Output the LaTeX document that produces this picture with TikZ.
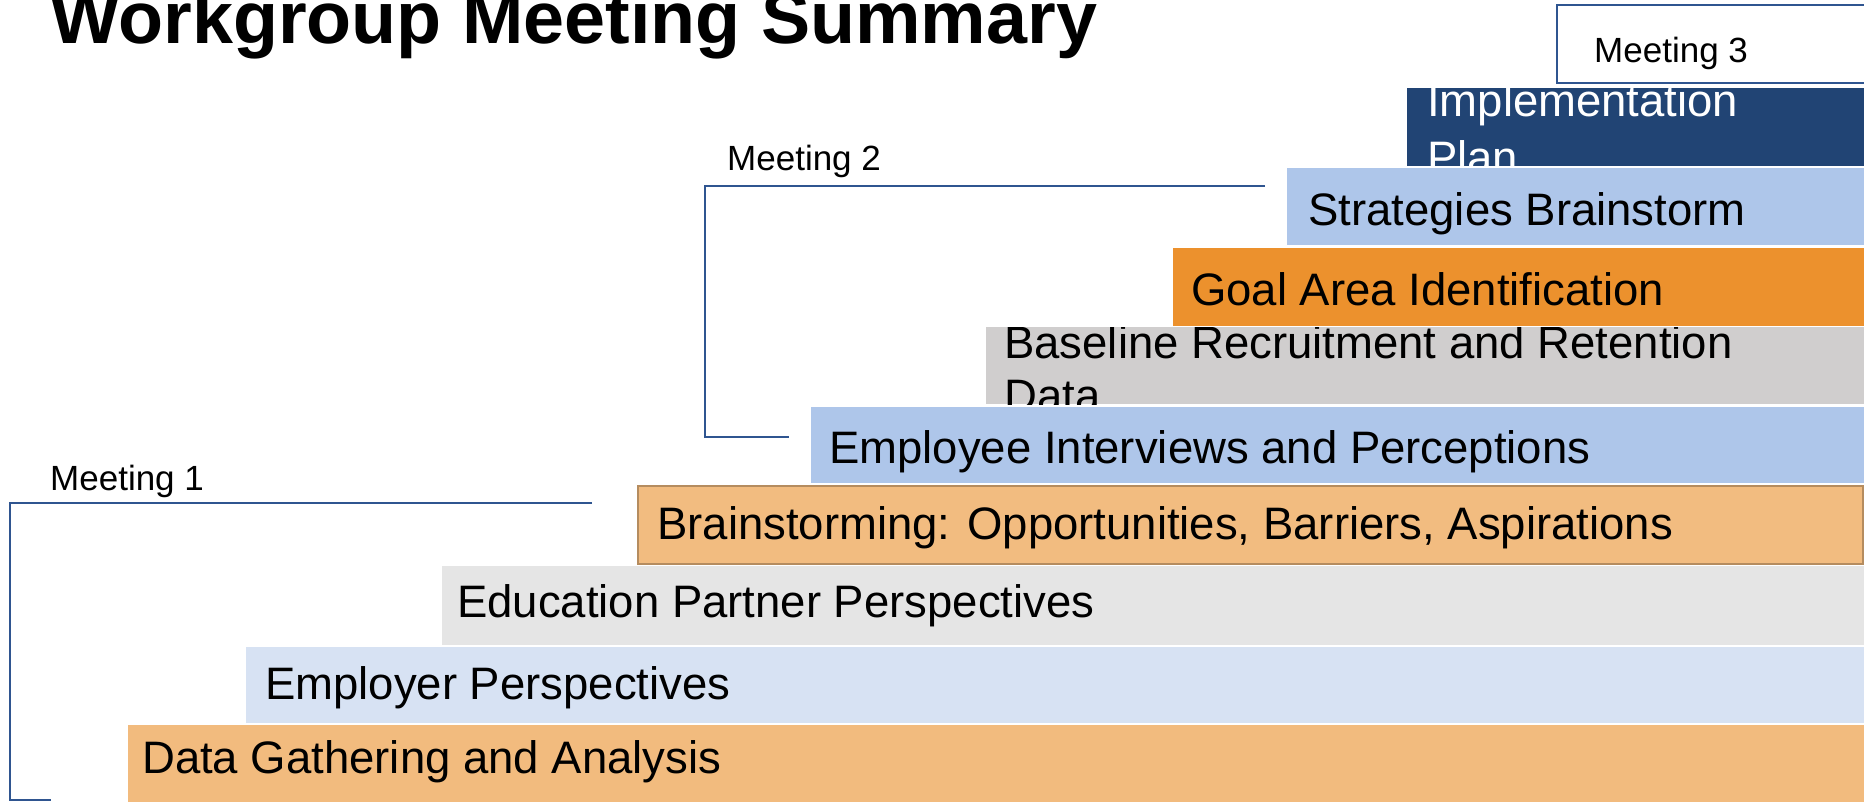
\documentclass[tikz,border=0pt]{standalone}
\usepackage{fontspec}
\setmainfont{Liberation Sans}
\definecolor{dataorange}{HTML}{F2BB7E}
\definecolor{employerblue}{HTML}{D7E2F3}
\definecolor{edugray}{HTML}{E5E5E5}
\definecolor{brainorange}{HTML}{F2BC80}
\definecolor{brainborder}{HTML}{B58C5F}
\definecolor{midblue}{HTML}{AEC6EA}
\definecolor{basegray}{HTML}{D0CECE}
\definecolor{goalorange}{HTML}{EC912D}
\definecolor{navy}{HTML}{214474}
\definecolor{bracketblue}{HTML}{2F5590}
\begin{document}
\begin{tikzpicture}[x=1pt,y=-1pt,
  bar/.style={anchor=north west, inner sep=0pt, outer sep=0pt, draw=none},
  bartext/.style={anchor=base west, inner sep=0pt, font=\fontsize{45.5}{54}\selectfont},
  meettext/.style={anchor=base west, inner sep=0pt, font=\fontsize{35}{41}\selectfont},
  bracket/.style={draw=bracketblue, line width=1.5pt},
]
\clip (0,0) rectangle (1864,801);
\fill[white] (0,0) rectangle (1864,801);

% title, running off the top edge
\node[anchor=base west, inner sep=0pt, font=\bfseries\fontsize{73.7}{80}\selectfont] (title) at (50,43) {Workgroup Meeting Summary};

% Meeting 3 label box
\node[bar, draw=bracketblue, line width=2.5pt, fill=white, minimum width=400pt, minimum height=78pt] (m3box) at (1557,5) {};
\node[meettext] (m3) at (1594,62) {Meeting 3};

% staircase of activity bars, top to bottom
\node[bar, fill=navy, minimum width=457pt, minimum height=78pt] (impl) at (1407,88) {};
\begin{scope}
  \clip (impl.north west) rectangle (impl.south east);
  \node[bartext, text=white] (implA) at (1427,116) {Implementation};
  \node[bartext, text=white] (implB) at (1427,173) {Plan};
\end{scope}

\node[bar, fill=midblue, minimum width=577pt, minimum height=77pt] (strat) at (1287,168) {};
\node[bartext] (stratT) at (1308,225) {Strategies Brainstorm};

\node[bar, fill=goalorange, minimum width=691pt, minimum height=78pt] (goal) at (1173,248) {};
\node[bartext] (goalT) at (1191,305) {Goal Area Identification};

\node[bar, fill=basegray, minimum width=878pt, minimum height=77pt] (base) at (986,327) {};
\begin{scope}
  \clip (base.north west) rectangle (base.south east);
  \node[bartext] (baseA) at (1004,358) {Baseline Recruitment and Retention};
  \node[bartext] (baseB) at (1004,411) {Data};
\end{scope}

\node[bar, fill=midblue, minimum width=1053pt, minimum height=76pt] (emp) at (811,407) {};
\node[bartext] (empT) at (829,463) {Employee Interviews and Perceptions};

\node[bar, fill=brainorange, draw=brainborder, line width=2.5pt, minimum width=1225pt, minimum height=78pt] (brain) at (638,486) {};
\node[bartext] (brainT) at (657,539) {Brainstorming: Opportunities, Barriers, Aspirations};

\node[bar, fill=edugray, minimum width=1422pt, minimum height=79pt] (edu) at (442,566) {};
\node[bartext] (eduT) at (457,617) {Education Partner Perspectives};

\node[bar, fill=employerblue, minimum width=1618pt, minimum height=76pt] (employer) at (246,647) {};
\node[bartext] (employerT) at (265,699) {Employer Perspectives};

\node[bar, fill=dataorange, minimum width=1736pt, minimum height=80pt] (data) at (128,725) {};
\node[bartext] (dataT) at (142,773) {Data Gathering and Analysis};

% Meeting 2 bracket
\node[meettext] (m2) at (727,170) {Meeting 2};
\coordinate (m2end) at (1265,186);
\coordinate (m2top) at (705,186);
\coordinate (m2bot) at (705,437);
\coordinate (m2foot) at (789,437);
\draw[bracket] (m2end) -- (m2top) -- (m2bot) -- (m2foot);

% Meeting 1 bracket
\node[meettext] (m1) at (50,490) {Meeting 1};
\coordinate (m1end) at (592,503);
\coordinate (m1top) at (10,503);
\coordinate (m1bot) at (10,800);
\coordinate (m1foot) at (51,800);
\draw[bracket] (m1end) -- (m1top) -- (m1bot) -- (m1foot);
\end{tikzpicture}
\end{document}
